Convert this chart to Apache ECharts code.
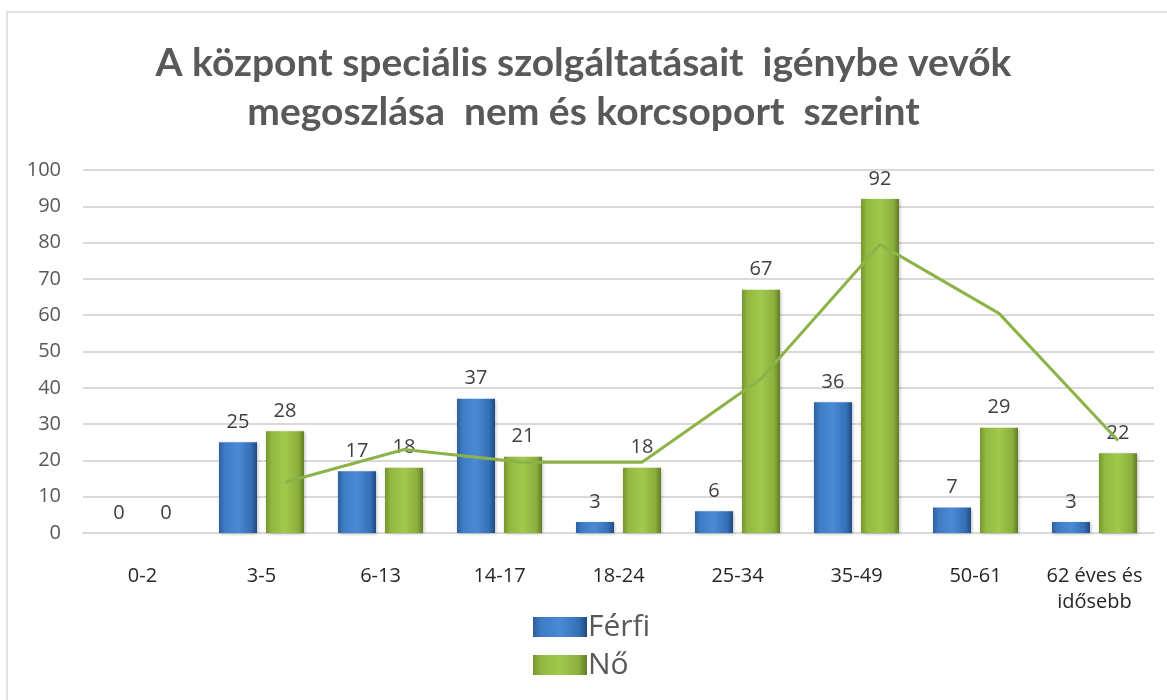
<!DOCTYPE html>
<html><head><meta charset="utf-8">
<script src="https://cdn.jsdelivr.net/npm/echarts@6/dist/echarts.min.js"></script>
<style>html,body{margin:0;padding:0;background:#fff}#c{width:1167px;height:700px}</style>
</head><body><div id="c"></div>
<script>
const categories = ['0-2','3-5','6-13','14-17','18-24','25-34','35-49','50-61','62 éves és\nidősebb'];
const ferfi = [0,25,17,37,3,6,36,7,3];
const no = [0,28,18,21,18,67,92,29,22];
// trendline (2-period moving average of "Nő")
const trend = [null,14,23,19.5,19.5,42.5,79.5,60.5,25.5];
const yTicks = [0,100,10];

const W = 1167, gridLeft = 83, gridRight = 13;
const barW = 38, gapPx = 9;
const catW = (W - gridLeft - gridRight) / categories.length;
const noOffset = (barW + gapPx) / 2 / catW;
const trendData = trend.map((v,i)=> [i+noOffset, v]);

const blue = {type:'linear',x:0,y:0,x2:1,y2:0,colorStops:[
  {offset:0,color:'#2d5f9e'},{offset:0.15,color:'#3f7cc6'},{offset:0.5,color:'#4a8ad6'},{offset:0.85,color:'#356fb5'},{offset:1,color:'#1f4a80'}]};
const green = {type:'linear',x:0,y:0,x2:1,y2:0,colorStops:[
  {offset:0,color:'#76962e'},{offset:0.15,color:'#92b840'},{offset:0.5,color:'#a2c94c'},{offset:0.85,color:'#8aae3c'},{offset:1,color:'#617d24'}]};

const FONT = 'Open Sans';
const chart = echarts.init(document.getElementById('c'));
chart.setOption({
  animation:false,
  graphic:[{type:'rect',shape:{x:7,y:12,width:1200,height:720},style:{fill:'none',stroke:'#d9d9d9',lineWidth:1.5},silent:true,z:-1}],
  title:{
    text:'A központ speciális szolgáltatásait  igénybe vevők\nmegoszlása  nem és korcsoport  szerint',
    left:'center', top:34,
    textStyle:{fontFamily:'Lato',fontWeight:'bold',fontSize:39,lineHeight:49,color:'#595959'}
  },
  legend:{
    orient:'vertical', left:528, top:607, itemWidth:54, itemHeight:20, itemGap:8,
    icon:'rect',
    textStyle:{fontFamily:FONT,fontSize:30,color:'#595959',padding:[0,0,0,-4]},
    data:['Férfi','Nő']
  },
  grid:{left:gridLeft,right:gridRight,top:170,bottom:167},
  xAxis:[{
    type:'category', data:categories,
    axisLine:{lineStyle:{color:'#d9d9d9',width:2}}, axisTick:{show:false},
    axisLabel:{color:'#262626',fontFamily:FONT,fontSize:20,margin:30,lineHeight:26,interval:0}
  },{
    type:'value', min:-0.5, max:categories.length-0.5, show:false
  }],
  yAxis:{
    type:'value', min:yTicks[0], max:yTicks[1], interval:yTicks[2],
    axisLine:{show:false}, axisTick:{show:false},
    splitLine:{lineStyle:{color:'#d9d9d9',width:2}},
    axisLabel:{color:'#595959',fontFamily:FONT,fontSize:20,margin:22}
  },
  series:[
    {name:'Férfi',type:'bar',data:ferfi,barWidth:barW,barGap:(gapPx/barW*100)+'%',
     itemStyle:{color:blue,shadowColor:'rgba(0,0,0,0.25)',shadowBlur:3,shadowOffsetX:1,shadowOffsetY:1},
     label:{show:true,position:'top',distance:10,color:'#404040',fontFamily:FONT,fontSize:20}},
    {name:'Nő',type:'bar',data:no,barWidth:barW,
     itemStyle:{color:green,shadowColor:'rgba(0,0,0,0.25)',shadowBlur:3,shadowOffsetX:1,shadowOffsetY:1},
     label:{show:true,position:'top',distance:10,color:'#404040',fontFamily:FONT,fontSize:20}},
    {name:'trend',type:'line',xAxisIndex:1,data:trendData,showSymbol:false,symbol:'none',
     lineStyle:{color:'#8cb347',width:3},z:5}
  ]
});
</script></body></html>
